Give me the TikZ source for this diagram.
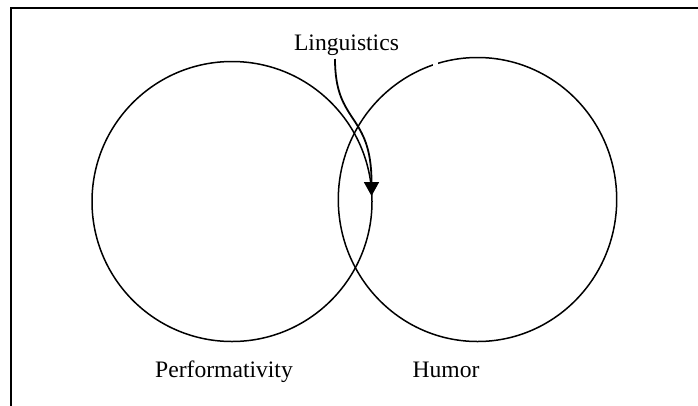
\documentclass[tikz,border=0pt]{standalone}
\usepackage{fontspec}
\setmainfont{Liberation Serif}
\usetikzlibrary{arrows.meta,shapes.geometric}
\begin{document}
\begin{tikzpicture}[x=1pt,y=-1pt,
  ring/.style={draw=black,line width=1.5pt,ellipse,inner sep=0pt},
  lab/.style={font=\fontsize{23.6}{28}\selectfont,inner sep=0pt,anchor=base},
  frame/.style={draw=black,line width=2pt}]
\useasboundingbox (0,0) rectangle (698,405);
\coordinate (fbl) at (11,406);
\coordinate (ftl) at (11,8);
\coordinate (ftr) at (699,8);
\draw[frame] (fbl) -- (ftl) -- (ftr);
\node[ring,minimum width=280pt,minimum height=280pt] (perf) at (232,201.5) {};
\node[ring,minimum width=278.4pt,minimum height=284pt] (hum) at (477.5,199.5) {};
\fill[white] (433,60) rectangle (437.5,69);
\node[lab] (ling) at (346.5,50) {Linguistics};
\node[lab] (plab) at (224,377) {Performativity};
\node[lab] (hlab) at (446,377) {Humor};
\coordinate (astart) at (335,59);
\coordinate (tip) at (371.5,196);
\draw[line width=1.8pt,-{Triangle[length=14pt,width=15pt]}] (astart) .. controls (335,125) and (371.5,112) .. (tip);
\end{tikzpicture}
\end{document}
